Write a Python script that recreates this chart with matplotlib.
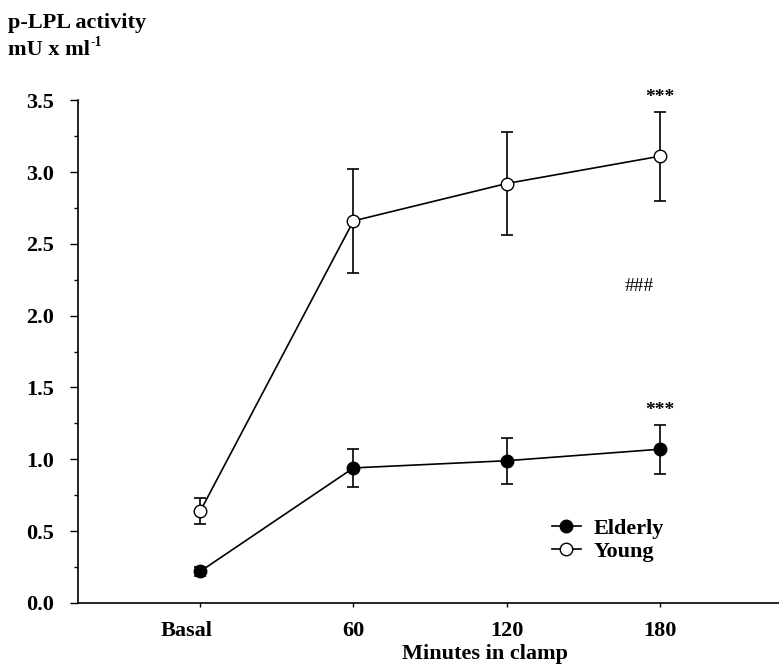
import numpy as np
import matplotlib.pyplot as plt
import matplotlib.transforms as mtransforms
from matplotlib.ticker import MultipleLocator, FormatStrFormatter
from matplotlib.lines import Line2D

plt.rcParams['font.family'] = ['Liberation Serif', 'DejaVu Serif']
plt.rcParams['font.weight'] = 'bold'

# data
x_labels = ['Basal', '60', '120', '180']
young = [0.64, 2.66, 2.92, 3.11]
young_err = [0.09, 0.36, 0.36, 0.31]
elderly = [0.22, 0.94, 0.99, 1.07]
elderly_err = [0.03, 0.13, 0.16, 0.17]

xs = np.arange(len(x_labels))
FS = 16

fig = plt.figure(figsize=(7.79, 6.64), dpi=100)
ax = fig.add_axes([0.100, 0.092, 0.90, 0.757])

ax.errorbar(xs, elderly, yerr=elderly_err, color='black', lw=1.2, capsize=4,
            elinewidth=1.2, capthick=1.2, marker='o', ms=9, mfc='black',
            mec='black', zorder=3)
ax.errorbar(xs, young, yerr=young_err, color='black', lw=1.2, capsize=4,
            elinewidth=1.2, capthick=1.2, marker='o', ms=9, mfc='white',
            mec='black', zorder=3)

# significance marks
ax.text(xs[3], young[3] + young_err[3] + 0.04, '***', ha='center', va='bottom', fontsize=14)
ax.text(xs[3], elderly[3] + elderly_err[3] + 0.04, '***', ha='center', va='bottom', fontsize=14)
ax.text(2.87, 2.2, '###', ha='center', va='center', fontsize=14, fontweight='normal')

ax.set_xlim(-0.8, 3.78)
ax.set_ylim(0, 3.5)
ax.set_xticks(xs)
ax.set_xticklabels(x_labels)
ax.yaxis.set_major_locator(MultipleLocator(0.5))
ax.yaxis.set_minor_locator(MultipleLocator(0.25))
ax.yaxis.set_major_formatter(FormatStrFormatter('%.1f'))
ax.tick_params(axis='both', labelsize=FS, direction='out')
ax.tick_params(axis='y', which='major', length=6, width=1, pad=11)
ax.tick_params(axis='y', which='minor', length=3, width=1)
ax.tick_params(axis='x', which='major', length=3, width=1, pad=10)
ax.spines['top'].set_visible(False)
ax.spines['right'].set_visible(False)
ax.spines['left'].set_linewidth(1.2)
ax.spines['bottom'].set_linewidth(1.2)

# "Basal" sits a little left of its tick in the original
basal = ax.xaxis.get_major_ticks()[0].label1
basal.set_transform(basal.get_transform() +
                    mtransforms.ScaledTranslation(-0.14, 0, fig.dpi_scale_trans))

ax.set_xlabel('Minutes in clamp', fontsize=FS, fontweight='bold', labelpad=2, x=0.58)

# y axis title, top left
fig.text(0.010, 1 - 28 / 664, 'p-LPL activity', fontsize=FS, va='baseline', ha='left')
unit = fig.text(0.010, 1 - 55 / 664, 'mU x ml', fontsize=FS, va='baseline', ha='left')
fig.canvas.draw()
bb = unit.get_window_extent()
fig.text(bb.x1 / fig.bbox.width + 0.001, 1 - 46 / 664, '-1', fontsize=10,
         va='baseline', ha='left')

handles = [
    Line2D([], [], color='black', lw=1.2, marker='o', ms=9, mfc='black', mec='black'),
    Line2D([], [], color='black', lw=1.2, marker='o', ms=9, mfc='white', mec='black'),
]
ax.legend(handles, ['Elderly', 'Young'], loc='center left', bbox_to_anchor=(0.676, 0.125),
          frameon=False, fontsize=FS, handlelength=1.3, handletextpad=0.6,
          labelspacing=0.1, borderpad=0, borderaxespad=0)

fig.savefig('out.png', dpi=100)
